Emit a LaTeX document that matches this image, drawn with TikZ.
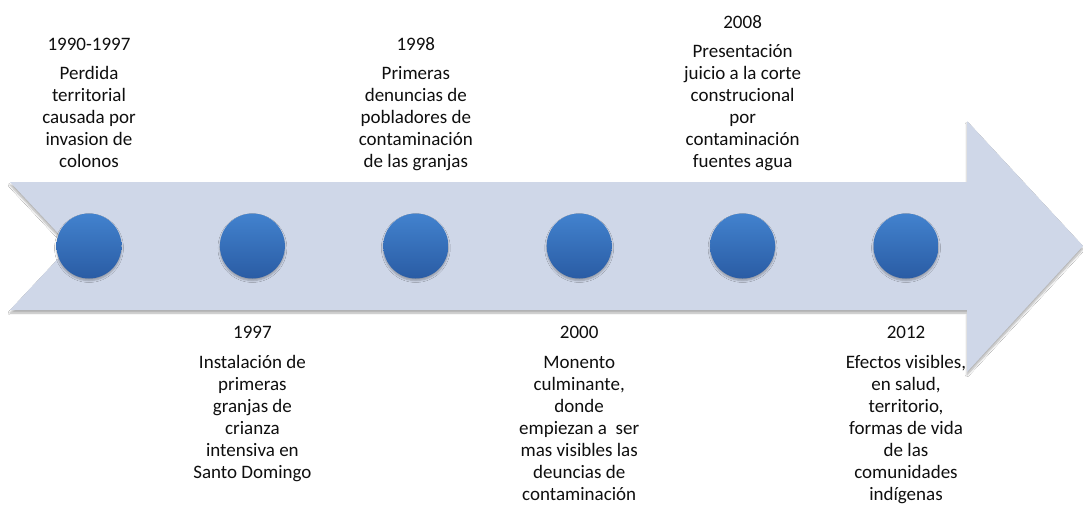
\documentclass[tikz,border=0pt]{standalone}
\usepackage{fontspec}
\setmainfont{Carlito}
\usetikzlibrary{shadows,shadows.blur}
\definecolor{arrowfill}{RGB}{207,215,232}
\definecolor{dottop}{RGB}{66,130,206}
\definecolor{dotbot}{RGB}{42,92,164}
\definecolor{txt}{RGB}{15,15,15}
\newcommand\mylines[1]{\begin{tabular}[t]{@{}c@{}}#1\end{tabular}}
\tikzset{
  dot/.style={circle, minimum size=65pt, inner sep=0pt, top color=dottop, bottom color=dotbot, draw=none,
    blur shadow={shadow xshift=0pt, shadow yshift=-2pt, shadow blur steps=6, shadow opacity=30}},
  yeartxt/.style={anchor=base, inner sep=0pt, text=txt, font=\fontsize{19}{22}\selectfont},
  desctxt/.style={anchor=base, inner sep=0pt, text=txt, font=\fontsize{19}{22}\selectfont\renewcommand\arraystretch{1}},
}
\begin{document}
\begin{tikzpicture}[x=1pt,y=-1pt]
\useasboundingbox (0,0) rectangle (1083,504);
\fill[white] (0,0) rectangle (1083,504);
% arrow
\fill[arrowfill, blur shadow={shadow xshift=0pt, shadow yshift=-3pt, shadow blur steps=8, shadow opacity=32}]
  (10,182) -- (967,182) -- (967,121) -- (1083,246) -- (967,372) -- (967,310) -- (10,310) -- (70,246) -- cycle;
% dots
\foreach \i/\x in {1/89,2/252.4,3/415.8,4/579.2,5/742.6,6/906}
  \node[dot] (c\i) at (\x,246) {};
% top labels
\node[yeartxt] (y1) at (89,50) {1990-1997};
\node[desctxt] (d1) at (89,79) {\mylines{Perdida\\territorial\\causada por\\invasion de\\colonos}};
\node[yeartxt] (y3) at (415.8,50) {1998};
\node[desctxt] (d3) at (415.8,79) {\mylines{Primeras\\denuncias de\\pobladores de\\contaminación\\de las granjas}};
\node[yeartxt] (y5) at (742.6,28) {2008};
\node[desctxt] (d5) at (742.6,57) {\mylines{Presentación\\juicio a la corte\\construcional\\por\\contaminación\\fuentes agua}};
% bottom labels
\node[yeartxt] (y2) at (252.4,338) {1997};
\node[desctxt] (d2) at (252.4,368) {\mylines{Instalación de\\primeras\\granjas de\\crianza\\intensiva en\\Santo Domingo}};
\node[yeartxt] (y4) at (579.2,338) {2000};
\node[desctxt] (d4) at (579.2,368) {\mylines{Monento\\culminante,\\donde\\empiezan a\ \ ser\\mas visibles las\\deuncias de\\contaminación}};
\node[yeartxt] (y6) at (906,338) {2012};
\node[desctxt] (d6) at (906,368) {\mylines{Efectos visibles,\\en salud,\\territorio,\\formas de vida\\de las\\comunidades\\indígenas}};
\end{tikzpicture}
\end{document}
